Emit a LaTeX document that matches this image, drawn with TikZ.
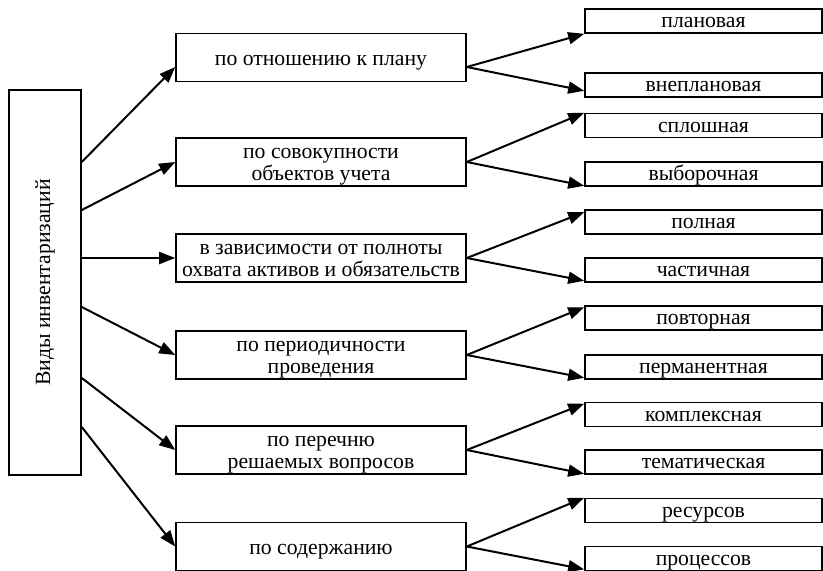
\documentclass[tikz,border=0pt]{standalone}
\usepackage{fontspec}
\setmainfont{Liberation Serif}
\usepackage{graphicx}
\usepackage{tikz}
\usetikzlibrary{arrows.meta,positioning}

\begin{document}
\fontsize{21.7}{22}\selectfont
\begin{tikzpicture}[
    x=1pt, y=-1pt,
    rootnode/.style={draw, line width=1.6pt, rectangle, minimum width=72pt, minimum height=385pt, inner sep=0pt},
    groupnode/.style={draw, line width=1.6pt, rectangle, align=center, minimum width=290pt, minimum height=48pt, inner sep=0pt, text height=22pt, text depth=7pt},
    twolines/.style={text height=40pt, text depth=4pt},
    leafnode/.style={draw, line width=1.6pt, rectangle, minimum width=237pt, minimum height=24pt, inner sep=0pt, text height=17pt, text depth=3.5pt},
    arr/.style={line width=2pt, -{Triangle[length=16pt,width=12pt]}}
  ]
  \useasboundingbox (0,0) rectangle (823,571);

  % корень
  \node[rootnode] (vid) at (45,282.5) {\rotatebox{90}{Виды инвентаризаций}};

  % группы
  \node[groupnode] (plan) at (321,57.5) {по отношению к плану};
  \node[groupnode, twolines] (sovok) at (321,162) {по совокупности\\объектов учета};
  \node[groupnode, twolines] (poln) at (321,258) {в зависимости от полноты\\охвата активов и обязательств};
  \node[groupnode, twolines] (period) at (321,355) {по периодичности\\проведения};
  \node[groupnode, twolines] (perech) at (321,450) {по перечню\\решаемых вопросов};
  \node[groupnode] (sod) at (321,546.5) {по содержанию};

  % виды
  \node[leafnode] (planov) at (703.5,21) {плановая};
  \node[leafnode] (vneplan) at (703.5,85) {внеплановая};
  \node[leafnode] (splosh) at (703.5,125.5) {сплошная};
  \node[leafnode] (vybor) at (703.5,174) {выборочная};
  \node[leafnode] (polnaya) at (703.5,222) {полная};
  \node[leafnode] (chast) at (703.5,270) {частичная};
  \node[leafnode] (povtor) at (703.5,318) {повторная};
  \node[leafnode] (perman) at (703.5,367) {перманентная};
  \node[leafnode] (kompl) at (703.5,414.5) {комплексная};
  \node[leafnode] (temat) at (703.5,462) {тематическая};
  \node[leafnode] (resurs) at (703.5,510.5) {ресурсов};
  \node[leafnode] (proc) at (703.5,558.5) {процессов};

  \draw[arr] ([yshift=120.5pt]vid.east) -- ([yshift=-9.5pt]plan.west);
  \draw[arr] ([yshift=72.5pt]vid.east) -- (sovok.west);
  \draw[arr] ([yshift=24.5pt]vid.east) -- (poln.west);
  \draw[arr] ([yshift=-24.5pt]vid.east) -- (period.west);
  \draw[arr] ([yshift=-95.5pt]vid.east) -- (perech.west);
  \draw[arr] ([yshift=-144.5pt]vid.east) -- (sod.west);

  \draw[arr] ([yshift=-9.5pt]plan.east) -- (planov.south west);
  \draw[arr] ([yshift=-9.5pt]plan.east) -- ([yshift=7pt]vneplan.south west);

  \draw[arr] (sovok.east) -- (splosh.north west);
  \draw[arr] (sovok.east) -- ([yshift=1pt]vybor.south west);

  \draw[arr] (poln.east) -- ([yshift=-3pt]polnaya.north west);
  \draw[arr] (poln.east) -- ([yshift=2pt]chast.south west);

  \draw[arr] (period.east) -- ([yshift=-2pt]povtor.north west);
  \draw[arr] (period.east) -- ([yshift=2pt]perman.south west);

  \draw[arr] (perech.east) -- ([yshift=-2pt]kompl.north west);
  \draw[arr] (perech.east) -- ([yshift=1pt]temat.south west);

  \draw[arr] (sod.east) -- (resurs.north west);
  \draw[arr] (sod.east) -- ([yshift=2pt]proc.south west);
\end{tikzpicture}
\end{document}
